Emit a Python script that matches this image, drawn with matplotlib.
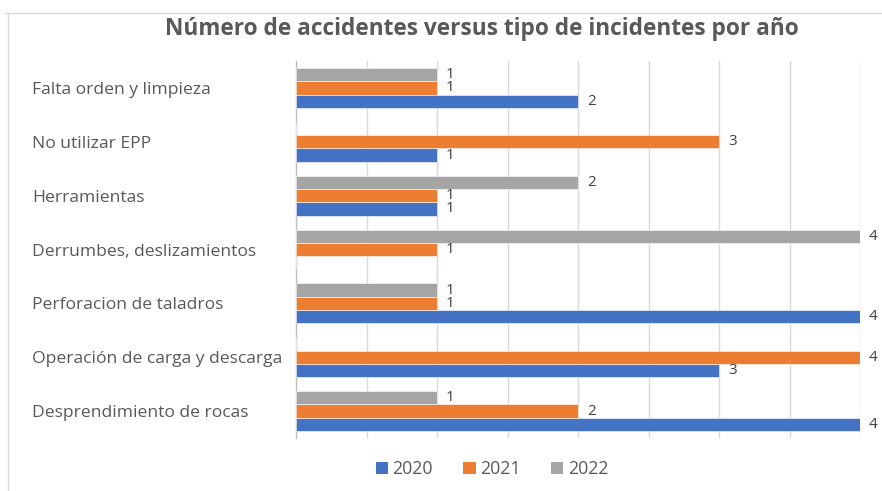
import numpy as np
import matplotlib
matplotlib.use("Agg")
import matplotlib.pyplot as plt
from matplotlib.patches import Patch
from matplotlib.lines import Line2D

categories = [
    "Desprendimiento de rocas",
    "Operación de carga y descarga",
    "Perforacion de taladros",
    "Derrumbes, deslizamientos",
    "Herramientas",
    "No utilizar EPP",
    "Falta orden y limpieza",
]
series_names = ["2020", "2021", "2022"]
v2020 = [4, 3, 4, 0, 1, 1, 2]
v2021 = [2, 4, 1, 1, 1, 3, 1]
v2022 = [1, 0, 1, 4, 2, 0, 1]
colors = ["#4472C4", "#ED7D31", "#A5A5A5"]

plt.rcParams['font.family'] = ['Open Sans', 'DejaVu Sans']

W, H = 882, 491
fig = plt.figure(figsize=(W / 100, H / 100), dpi=100)
ax = fig.add_axes([296 / W, 1 - 438 / H, (860 - 296) / W, (438 - 61) / H])

y = np.arange(len(categories))
h = 0.247
for i, (vals, col) in enumerate(zip([v2020, v2021, v2022], colors)):
    off = (i - 1) * h
    ax.barh(y + off, vals, height=h, color=col, edgecolor='white', linewidth=0.4, zorder=3)
    for yy, v in zip(y, vals):
        if v > 0:
            ax.text(v + 0.064, yy + off, str(v), va='center', ha='left',
                    fontsize=11, color='#404040', zorder=4)

ax.set_xlim(0, 4)
ax.set_ylim(-0.5, len(categories) - 0.5)
ax.set_xticks(np.arange(0, 4.01, 0.5))
ax.set_xticklabels([])
ax.tick_params(axis='x', length=0)
ax.grid(axis='x', color='#D9D9D9', linewidth=1, zorder=0)
ax.set_yticks(y)
ax.set_yticklabels(categories, fontsize=12.6, color='#595959')
for lab in ax.get_yticklabels():
    lab.set_ha('left')
ax.tick_params(axis='y', length=0, pad=(296 - 32) * 0.72)
for s in ['top', 'right', 'bottom']:
    ax.spines[s].set_visible(False)
ax.spines['left'].set_color('#BFBFBF')
ax.spines['left'].set_linewidth(1)

fig.text(481.5 / W, 1 - 29 / H, "Número de accidentes versus tipo de incidentes por año",
         ha='center', va='center', fontsize=16.3, fontweight='bold', color='#595959')

handles = [Patch(facecolor=c, edgecolor='none') for c in colors]
fig.legend(handles, series_names, loc='center', bbox_to_anchor=(492 / W, 1 - 469 / H),
           ncol=3, frameon=False, fontsize=12.8, handlelength=0.7, handleheight=0.7,
           handletextpad=0.25, columnspacing=1.7, labelcolor='#595959')

# chart border lines
fig.add_artist(Line2D([5 / W, 1], [1 - 13 / H, 1 - 13 / H], color='#D9D9D9', linewidth=1))
fig.add_artist(Line2D([8 / W, 8 / W], [0, 1 - 13 / H], color='#D9D9D9', linewidth=1))

fig.savefig("out.png", dpi=100, facecolor='white')
